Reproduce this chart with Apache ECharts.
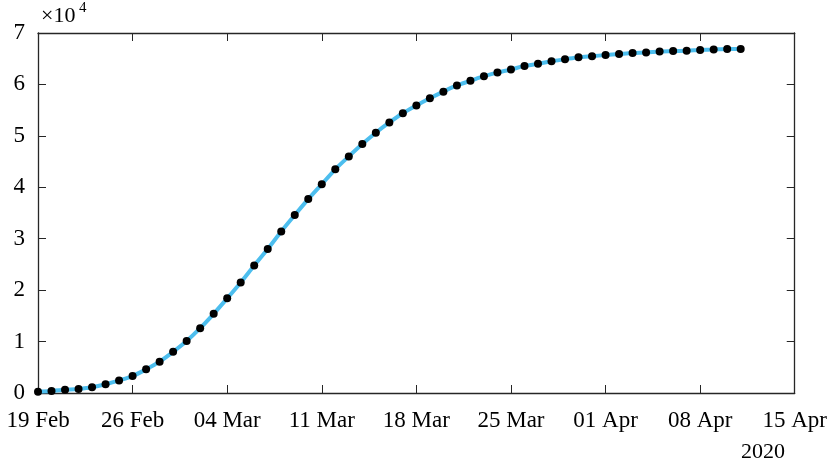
<!DOCTYPE html>
<html lang="en">
<head>
    <meta charset="UTF-8">
    <title>Cumulative cases</title>
    <script src="https://cdn.jsdelivr.net/npm/echarts@6/dist/echarts.min.js"></script>
</head>
<body style="margin:0">
<div id="main" style="width: 830px;height:464px;"></div>
<script>
    // tick labels on the date axis (one every 7 days from 19 Feb 2020)
    var xTickLabels = ['19 Feb', '26 Feb', '04 Mar', '11 Mar', '18 Mar', '25 Mar', '01 Apr', '08 Apr', '15 Apr'];
    // days since 19 Feb for each sample (19 Feb .. 11 Apr)
    var dayIndex = [0, 1, 2, 3, 4, 5, 6, 7, 8, 9, 10, 11, 12, 13, 14, 15, 16, 17, 18, 19, 20,
        21, 22, 23, 24, 25, 26, 27, 28, 29, 30, 31, 32, 33, 34, 35, 36, 37, 38, 39, 40,
        41, 42, 43, 44, 45, 46, 47, 48, 49, 50, 51, 52];
    // cumulative count
    var cases = [260, 410, 620, 800, 1120, 1700, 2450, 3300, 4600, 6100, 8000, 10100, 12600,
        15400, 18400, 21500, 24800, 28000, 31400, 34600, 37700, 40600, 43500, 46000, 48400,
        50600, 52600, 54400, 55900, 57300, 58600, 59800, 60700, 61600, 62300, 62900, 63600,
        64000, 64500, 64900, 65300, 65500, 65700, 65900, 66100, 66200, 66400, 66500, 66550,
        66700, 66800, 66900, 66900];

    var font = 'Liberation Serif';
    var axisCol = '#262626';

    var seriesData = [];
    for (var i = 0; i < cases.length; i++) {
        seriesData.push([dayIndex[i], cases[i]]);
    }

    function boxAxis(pos, max, interval) {
        return {
            type: 'value', min: 0, max: max, interval: interval, position: pos,
            axisLine: {show: true, onZero: false, lineStyle: {color: axisCol, width: 1.3}},
            axisTick: {show: true, inside: true, length: 8, lineStyle: {color: axisCol}},
            splitLine: {show: false},
            axisLabel: {show: false}
        };
    }

    var myChart = echarts.init(document.getElementById('main'));
    var option = {
        animation: false,
        grid: {left: 38, right: 29, top: 33, bottom: 71},
        xAxis: [
            {
                type: 'value', min: 0, max: 56, interval: 7, position: 'bottom',
                axisLine: {show: true, onZero: false, lineStyle: {color: axisCol, width: 1.3}},
                axisTick: {show: true, inside: true, length: 8, lineStyle: {color: axisCol}},
                splitLine: {show: false},
                axisLabel: {
                    color: '#000', fontFamily: font, fontSize: 23, margin: 16,
                    showMinLabel: true, showMaxLabel: true,
                    formatter: function (v) { return xTickLabels[Math.round(v / 7)]; }
                }
            },
            boxAxis('top', 56, 7)
        ],
        yAxis: [
            {
                type: 'value', min: 0, max: 70000, interval: 10000, position: 'left',
                axisLine: {show: true, onZero: false, lineStyle: {color: axisCol, width: 1.3}},
                axisTick: {show: true, inside: true, length: 8, lineStyle: {color: axisCol}},
                splitLine: {show: false},
                axisLabel: {
                    color: '#000', fontFamily: font, fontSize: 23, margin: 13,
                    formatter: function (v) { return v / 10000; }
                }
            },
            boxAxis('right', 70000, 10000)
        ],
        graphic: [
            {type: 'text', left: 41, top: 5, style: {text: '\u00d710', font: '22px "Liberation Serif"', fill: '#000'}},
            {type: 'text', left: 79, top: 1, style: {text: '4', font: '15px "Liberation Serif"', fill: '#000'}},
            {type: 'text', left: 741, top: 441, style: {text: '2020', font: '22px "Liberation Serif"', fill: '#000'}}
        ],
        series: [
            {
                // invisible copy so the top/right box axes get drawn
                type: 'line',
                xAxisIndex: 1,
                yAxisIndex: 1,
                data: seriesData,
                symbol: 'none',
                silent: true,
                lineStyle: {opacity: 0}
            },
            {
                type: 'line',
                data: seriesData,
                smooth: 0.3,
                lineStyle: {color: '#4DBEEE', width: 4},
                symbol: 'circle',
                symbolSize: 8,
                showAllSymbol: true,
                itemStyle: {color: '#000'}
            }
        ]
    };
    myChart.setOption(option);
</script>
</body>
</html>
